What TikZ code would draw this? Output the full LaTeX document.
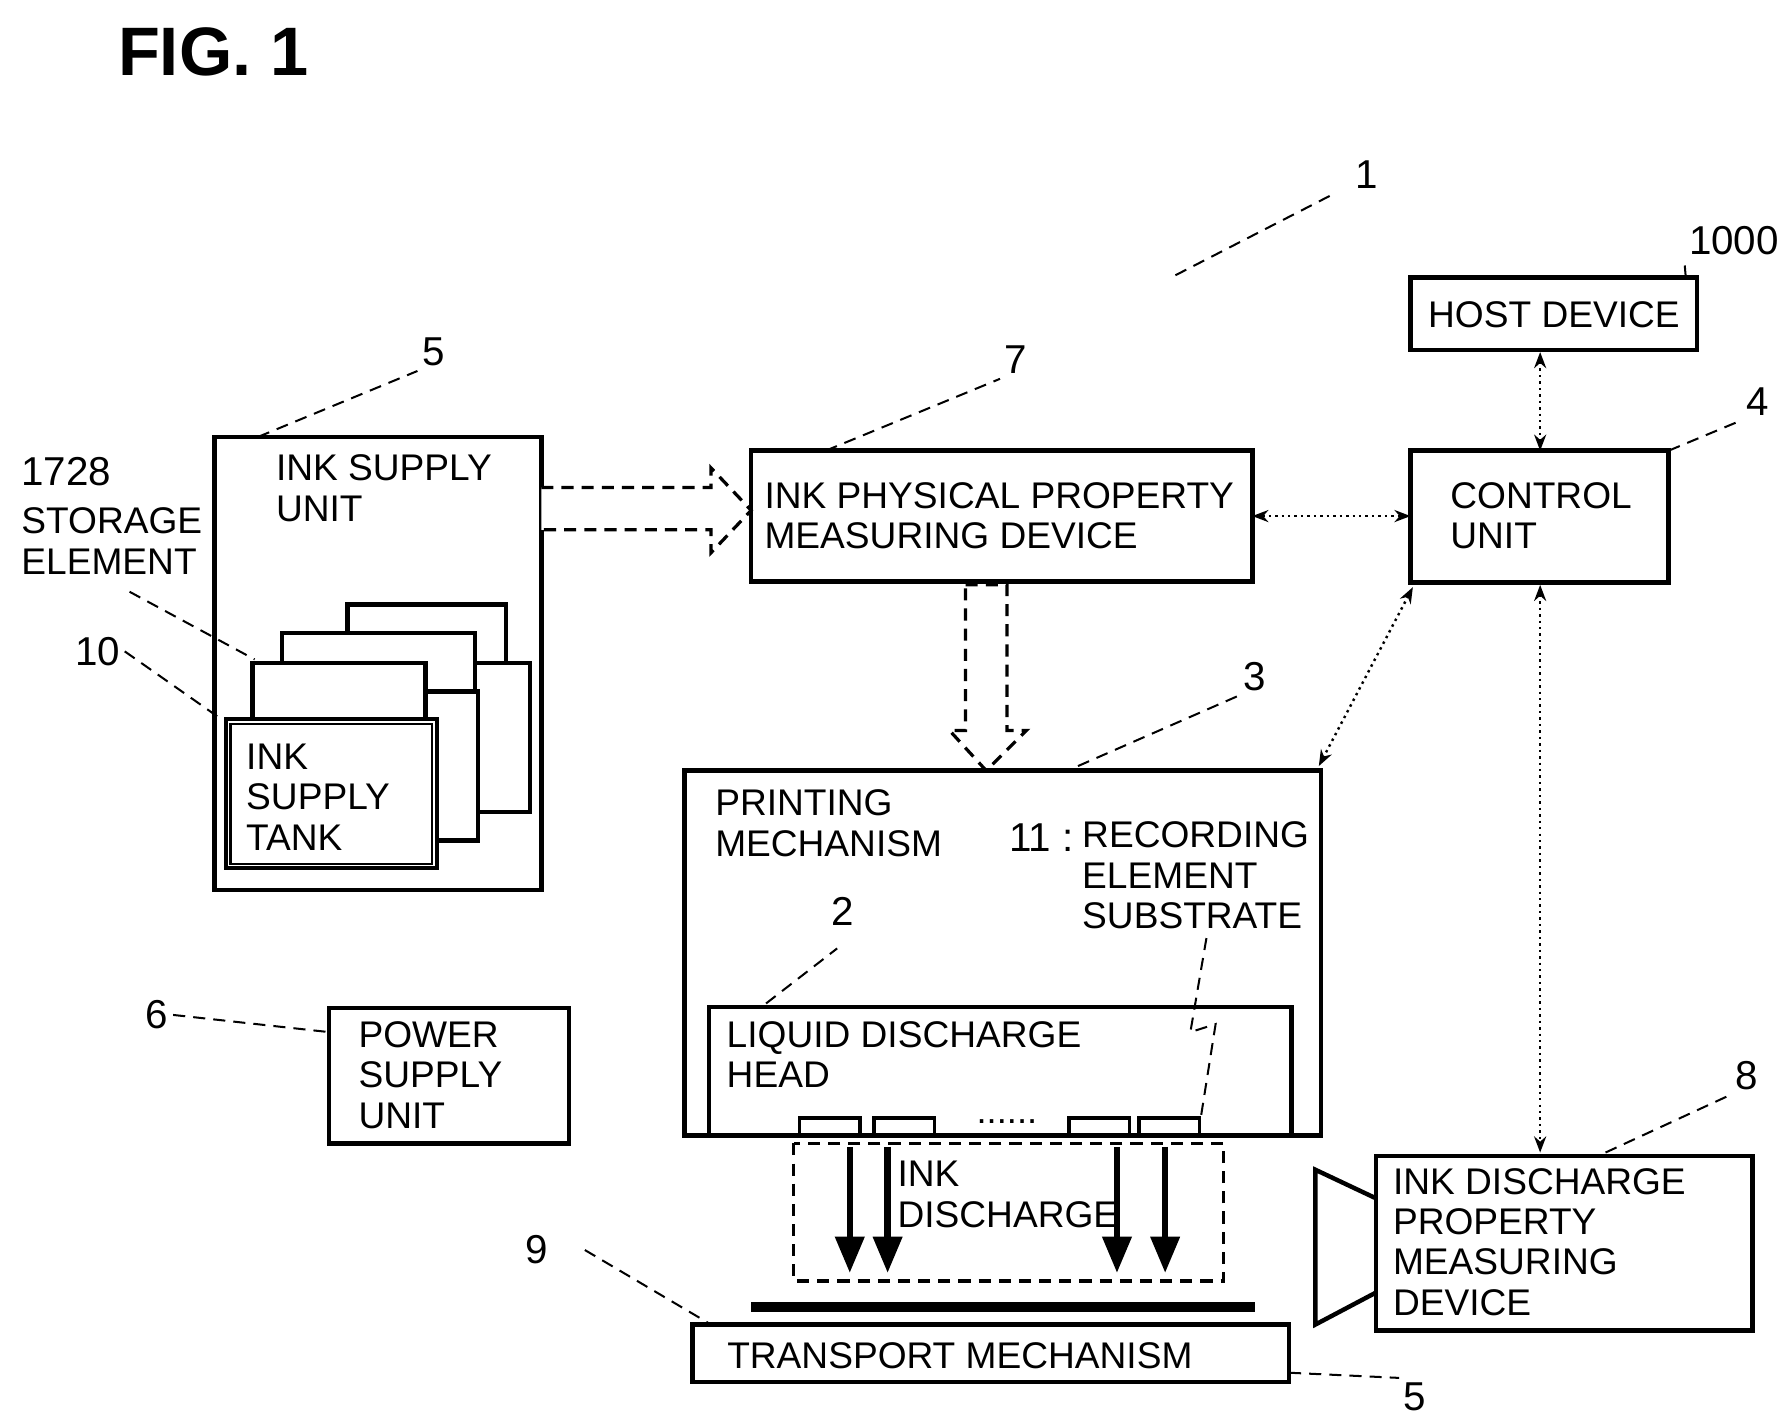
\documentclass[tikz,border=0pt]{standalone}
\usepackage{fontspec}
\setmainfont{Liberation Sans}
\usetikzlibrary{arrows.meta}
\begin{document}
\begin{tikzpicture}[x=0.01cm,y=-0.01cm,
  box/.style={draw,line width=1.1pt,fill=white},
  lead/.style={line width=0.5pt,densely dashed},
  lbl/.style={font=\fontsize{9.2}{10}\selectfont,inner sep=0pt},
  txt/.style={font=\fontsize{9.2}{10}\selectfont,align=left,anchor=north west,inner sep=0pt},
  num/.style={font=\fontsize{10}{11}\selectfont,inner sep=1pt},
  dbl/.style={densely dotted,line width=0.6pt,{Stealth[length=4pt]}-{Stealth[length=4pt]}},
  drop/.style={line width=1.6pt,-{Triangle[length=9pt,width=7pt]}}]
\useasboundingbox (0,0) rectangle (1560,1242);
\node[font=\fontsize{17}{19}\selectfont\bfseries,inner sep=0pt] (fig) at (186,45) {FIG. 1};
% 1
\node[num] (n1) at (1192,152) {1};
\coordinate (l1a) at (1025,240); \coordinate (l1b) at (1165,168);
\draw[lead] (l1a) -- (l1b);
% host
\draw[box] (1230,242) rectangle (1480,305);
\node[lbl] (host) at (1355,274) {HOST DEVICE};
\coordinate (hostb) at (1343,307);
\node[num] (n1000) at (1512,210) {1000};
\draw[lead] (1470,242) -- (n1000.south west);
% control
\draw[box] (1230,393) rectangle (1455,508);
\node[txt] (ctrl) at (1264,420) {CONTROL\\UNIT};
\node[num] (n4) at (1533,350) {4};
\draw[lead] (1455,393) -- (n4.south west);
% property
\draw[box] (655,393) rectangle (1092,507);
\node[txt] (prop) at (666,420) {INK PHYSICAL PROPERTY\\MEASURING DEVICE};
\node[num] (n7) at (886,314) {7};
\draw[lead] (720,393) -- (n7.south west);
% ink supply unit
\draw[box] (187,381) rectangle (472,776);
\node[txt] (isu) at (240,396) {INK SUPPLY\\UNIT};
\node[num] (n5a) at (378,307) {5};
\draw[lead] (225,381) -- (n5a.south west);
% hollow arrow
\draw[line width=0.8pt,densely dashed,fill=white] (472,425) -- (620,425) -- (620,408) -- (655,445) -- (620,482) -- (620,462) -- (472,462);
% tanks
\draw[box] (414,578) rectangle (462,708);
\draw[box] (303,527) rectangle (441,578);
\draw[box] (371,603) rectangle (417,733);
\draw[box] (246,552) rectangle (414,603);
\draw[box] (220,578) rectangle (371,627);
\draw[box] (197,627) rectangle (381,757);
\draw[line width=0.5pt] (201,631) rectangle (377,753);
\node[txt] (tank) at (214,648) {INK\\SUPPLY\\TANK};
\node[txt] (stor) at (18,398) {{\fontsize{10}{10}\selectfont 1728}\\[2pt]STORAGE\\ELEMENT};
\draw[lead] (113,516) -- (222,575);
\node[num] (n10) at (85,568) {10};
\draw[lead] (n10.east) -- (190,625);
% down hollow arrow
\draw[line width=0.8pt,densely dashed,fill=white] (842,510) -- (878,510) -- (878,637) -- (895,637) -- (860,672) -- (828,637) -- (842,637) -- cycle;
% printing
\draw[box] (597,672) rectangle (1152,990);
\node[txt] (pm) at (623,688) {PRINTING\\MECHANISM};
\node[num,anchor=west] (n11) at (876,730) {11 :};
\node[txt] (res) at (943,716) {RECORDING\\ELEMENT\\SUBSTRATE};
\node[num] (n3) at (1094,590) {3};
\draw[lead] (940,668) -- (n3.south west);
% head
\draw[box] (618,878) rectangle (1126,990);
\node[txt] (head) at (633,890) {LIQUID DISCHARGE\\HEAD};
\node[num] (n2) at (735,795) {2};
\draw[lead] (668,875) -- (730,827);
\foreach \a in {697,762,932,993}{\draw[line width=0.9pt] (\a,990) -- (\a,975) -- (\a+53,975) -- (\a+53,990);}
\node[font=\fontsize{9}{9}\selectfont] at (878,978) {......};
\draw[lead] (1052,818) -- (1038,900) -- (1060,893) -- (1047,975);
% discharge
\draw[densely dashed,line width=0.8pt] (692,997) rectangle (1067,1117);
\foreach \a in {741,774,974,1016}{\draw[drop] (\a,1000) -- (\a,1110);}
\node[txt] (inkd) at (782,1012) {INK\\DISCHARGE};
\draw[line width=2.5pt] (655,1140) -- (1094,1140);
% transport
\draw[box] (604,1155) rectangle (1124,1205);
\node[lbl] (tm) at (837,1182) {TRANSPORT MECHANISM};
\node[num] (n9) at (468,1090) {9};
\draw[lead] (510,1090) -- (620,1155);
\node[num] (n5b) at (1234,1218) {5};
\draw[lead] (1124,1197) -- (n5b.north west);
% power
\draw[box] (287,879) rectangle (496,997);
\node[txt] (ps) at (312,890) {POWER\\SUPPLY\\UNIT};
\node[num] (n6) at (137,885) {6};
\draw[lead] (n6.east) -- (287,900);
% ink discharge measuring
\draw[box] (1200,1008) rectangle (1528,1160);
\node[txt] (idm) at (1214,1018) {INK DISCHARGE\\PROPERTY\\MEASURING\\DEVICE};
\draw[line width=1.1pt] (1200,1045) -- (1147,1020) -- (1147,1155) -- (1200,1127);
\node[num] (n8) at (1523,938) {8};
\draw[lead] (1400,1005) -- (n8.south west);
% connectors
\draw[dbl] (1092,450) -- (1230,450);
\draw[dbl] (hostb) -- (1343,393);
\draw[dbl] (1343,510) -- (1343,1005);
\draw[dbl] (1232,512) -- (1150,668);
\end{tikzpicture}
\end{document}
